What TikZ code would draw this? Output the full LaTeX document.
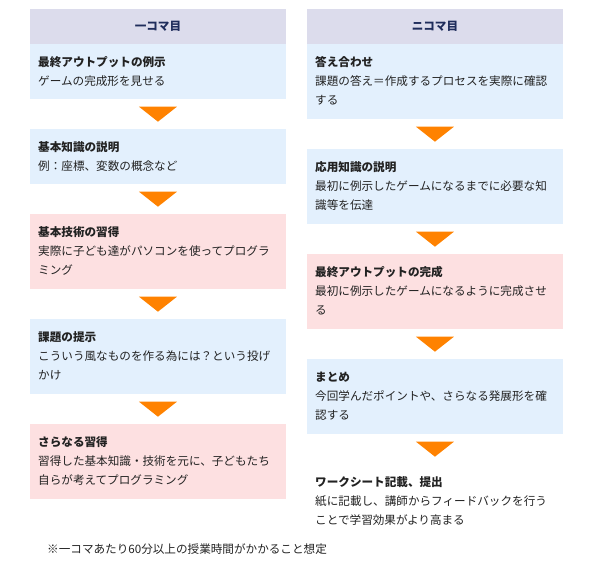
\documentclass[tikz,border=0pt]{standalone}
\usepackage{fontspec}
\setmainfont{Noto Sans CJK JP}
\usetikzlibrary{calc}
\definecolor{hdrbg}{HTML}{DCDCEC}
\definecolor{hdrtxt}{HTML}{1F2D5C}
\definecolor{bluebg}{HTML}{E3F0FD}
\definecolor{pinkbg}{HTML}{FDE0E1}
\definecolor{arrowor}{HTML}{FF8200}
\definecolor{txt}{HTML}{222222}
\tikzset{
  boxbase/.style={anchor=north west, inner sep=0pt, minimum width=255.5pt, draw=none},
  bluebox/.style={boxbase, fill=bluebg},
  pinkbox/.style={boxbase, fill=pinkbg},
  plainbox/.style={boxbase},
  hdrbox/.style={boxbase, fill=hdrbg, minimum height=35pt},
  hdrlabel/.style={font=\fontsize{11.6}{14}\selectfont\bfseries, text=hdrtxt, inner sep=0pt},
  ttl/.style={anchor=base west, inner sep=0pt, font=\fontsize{11.6}{14}\selectfont\bfseries, text=txt},
  bdy/.style={anchor=base west, inner sep=0pt, font=\fontsize{11.6}{14}\selectfont, text=txt},
  tri/.style={fill=arrowor, draw=none}
}
\newcommand{\flowarrow}[2]{%
  \fill[tri] ($(#1.south)!0.5!(#2.north)+(-19,-7.5)$) -- ++(38,0) -- ++(-19,15) -- cycle;}
\begin{document}
\begin{tikzpicture}[x=1pt,y=-1pt]
\useasboundingbox (0,0) rectangle (595,577);
% ---------- left column ----------
\node[hdrbox] (lh) at (30,9) {};
\node[hdrlabel] (lht) at (lh.center) {一コマ目};
\node[bluebox, minimum height=55pt] (l1) at (30,44) {};
\node[bluebox, minimum height=55pt] (l2) at (30,129) {};
\node[pinkbox, minimum height=75pt] (l3) at (30,214) {};
\node[bluebox, minimum height=75pt] (l4) at (30,319) {};
\node[pinkbox, minimum height=75pt] (l5) at (30,424) {};
\node[ttl] (l1t) at ($(l1.north west)+(8,22.5)$) {最終アウトプットの例示};
\node[bdy] (l1a) at ($(l1.north west)+(8,42)$) {ゲームの完成形を見せる};
\node[ttl] (l2t) at ($(l2.north west)+(8,22.5)$) {基本知識の説明};
\node[bdy] (l2a) at ($(l2.north west)+(8,42)$) {例：座標、変数の概念など};
\node[ttl] (l3t) at ($(l3.north west)+(8,22.5)$) {基本技術の習得};
\node[bdy] (l3a) at ($(l3.north west)+(8,42)$) {実際に子ども達がパソコンを使ってプログラ};
\node[bdy] (l3b) at ($(l3.north west)+(8,61)$) {ミング};
\node[ttl] (l4t) at ($(l4.north west)+(8,22.5)$) {課題の提示};
\node[bdy] (l4a) at ($(l4.north west)+(8,42)$) {こういう風なものを作る為には？という投げ};
\node[bdy] (l4b) at ($(l4.north west)+(8,61)$) {かけ};
\node[ttl] (l5t) at ($(l5.north west)+(8,22.5)$) {さらなる習得};
\node[bdy] (l5a) at ($(l5.north west)+(8,42)$) {習得した基本知識・技術を元に、子どもたち};
\node[bdy] (l5b) at ($(l5.north west)+(8,61)$) {自らが考えてプログラミング};
\flowarrow{l1}{l2}
\flowarrow{l2}{l3}
\flowarrow{l3}{l4}
\flowarrow{l4}{l5}
% ---------- right column ----------
\node[hdrbox] (rh) at (307,9) {};
\node[hdrlabel] (rht) at (rh.center) {ニコマ目};
\node[bluebox, minimum height=75pt] (r1) at (307,44) {};
\node[bluebox, minimum height=75pt] (r2) at (307,149) {};
\node[pinkbox, minimum height=75pt] (r3) at (307,254) {};
\node[bluebox, minimum height=75pt] (r4) at (307,359) {};
\node[plainbox, minimum height=75pt] (r5) at (307,464) {};
\node[ttl] (r1t) at ($(r1.north west)+(8,22.5)$) {答え合わせ};
\node[bdy] (r1a) at ($(r1.north west)+(8,42)$) {課題の答え＝作成するプロセスを実際に確認};
\node[bdy] (r1b) at ($(r1.north west)+(8,61)$) {する};
\node[ttl] (r2t) at ($(r2.north west)+(8,22.5)$) {応用知識の説明};
\node[bdy] (r2a) at ($(r2.north west)+(8,42)$) {最初に例示したゲームになるまでに必要な知};
\node[bdy] (r2b) at ($(r2.north west)+(8,61)$) {識等を伝達};
\node[ttl] (r3t) at ($(r3.north west)+(8,22.5)$) {最終アウトプットの完成};
\node[bdy] (r3a) at ($(r3.north west)+(8,42)$) {最初に例示したゲームになるように完成させ};
\node[bdy] (r3b) at ($(r3.north west)+(8,61)$) {る};
\node[ttl] (r4t) at ($(r4.north west)+(8,22.5)$) {まとめ};
\node[bdy] (r4a) at ($(r4.north west)+(8,42)$) {今回学んだポイントや、さらなる発展形を確};
\node[bdy] (r4b) at ($(r4.north west)+(8,61)$) {認する};
\node[ttl] (r5t) at ($(r5.north west)+(8,22.5)$) {ワークシート記載、提出};
\node[bdy] (r5a) at ($(r5.north west)+(8,42)$) {紙に記載し、講師からフィードバックを行う};
\node[bdy] (r5b) at ($(r5.north west)+(8,61)$) {ことで学習効果がより高まる};
\flowarrow{r1}{r2}
\flowarrow{r2}{r3}
\flowarrow{r3}{r4}
\flowarrow{r4}{r5}
% ---------- footnote ----------
\node[bdy] (note) at (47,553.5) {※一コマあたり60分以上の授業時間がかかること想定};
\end{tikzpicture}
\end{document}
